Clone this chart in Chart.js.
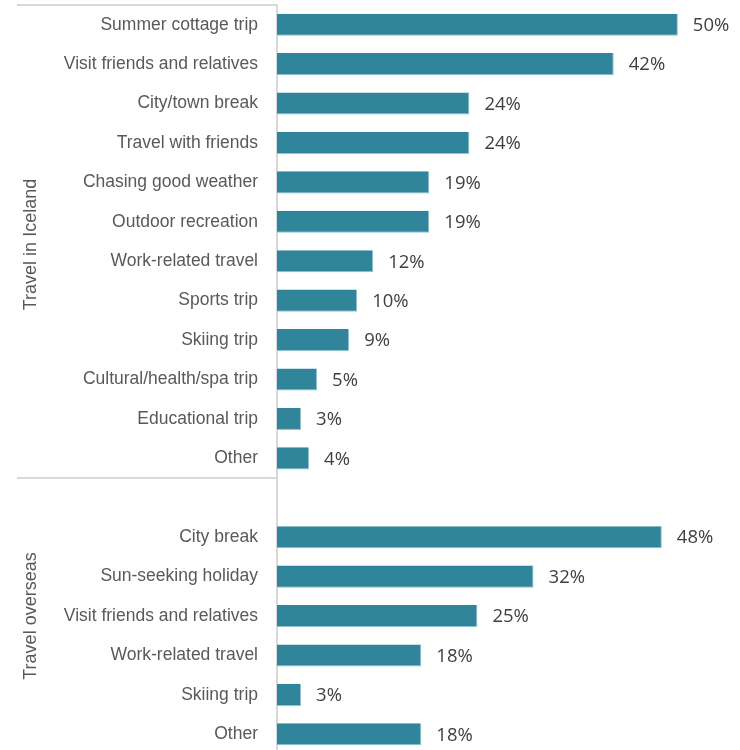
<!DOCTYPE html>
<html>
<head>
<meta charset="utf-8">
<title>Trip types</title>
<script src="https://cdn.jsdelivr.net/npm/chart.js@4/dist/chart.umd.min.js"></script>
<style>
  html, body { margin: 0; padding: 0; background: #fff; overflow: hidden; }
  #wrap { width: 740px; height: 754px; }
</style>
</head>
<body>
<div id="wrap"><canvas id="tripChart" width="740" height="754"></canvas></div>
<script>
"use strict";

// Trip types, domestic and abroad (share of respondents, %)
const icelandLabels = ["Summer cottage trip", "Visit friends and relatives", "City/town break",
  "Travel with friends", "Chasing good weather", "Outdoor recreation", "Work-related travel",
  "Sports trip", "Skiing trip", "Cultural/health/spa trip", "Educational trip", "Other"];
const icelandValues = [50, 42, 24, 24, 19, 19, 12, 10, 9, 5, 3, 4];

const overseasLabels = ["City break", "Sun-seeking holiday", "Visit friends and relatives",
  "Work-related travel", "Skiing trip", "Other"];
const overseasValues = [48, 32, 25, 18, 3, 18];

const groupNames = ["Travel in Iceland", "Travel overseas"];

// one empty row separates the two groups
const labels = icelandLabels.concat([""], overseasLabels);
const values = icelandValues.concat([null], overseasValues);

const lineColor = "#d9d9d9";
const axisLeft = 277;

const extras = {
  id: "extras",
  afterDatasetsDraw(chart) {
    const ctx = chart.ctx;
    const y = chart.scales.y;
    const x = chart.scales.x;
    const area = chart.chartArea;
    const band = y.getPixelForValue(1) - y.getPixelForValue(0);

    // value labels at the end of each bar
    const meta = chart.getDatasetMeta(0);
    ctx.save();
    ctx.font = "18.5px 'Open Sans'";
    ctx.fillStyle = "#404040";
    ctx.textBaseline = "middle";
    meta.data.forEach((bar, i) => {
      const v = values[i];
      if (v === null) return;
      ctx.fillText(v + "%", x.getPixelForValue(v) + 15, bar.y + 1);
    });

    // frame lines on the label side
    const sepY = y.getPixelForValue(icelandLabels.length - 1) + band / 2;
    ctx.strokeStyle = lineColor;
    ctx.lineWidth = 2;
    ctx.beginPath();
    ctx.moveTo(17, area.top);
    ctx.lineTo(area.left, area.top);
    ctx.moveTo(17, sepY);
    ctx.lineTo(area.left, sepY);
    ctx.stroke();

    // rotated group titles
    const mids = [(area.top + sepY) / 2 + 3, (sepY + area.bottom) / 2];
    ctx.font = "18px 'Liberation Sans'";
    ctx.fillStyle = "#595959";
    ctx.textAlign = "center";
    groupNames.forEach((name, i) => {
      ctx.save();
      ctx.translate(31, mids[i]);
      ctx.rotate(-Math.PI / 2);
      ctx.fillText(name, 0, 0);
      ctx.restore();
    });
    ctx.restore();
  }
};

new Chart(document.getElementById("tripChart"), {
  type: "bar",
  data: {
    labels: labels,
    datasets: [{
      data: values,
      backgroundColor: "#31859b",
      borderColor: "#8fc3cf",
      borderWidth: { top: 0, left: 0, right: 1, bottom: 1 },
      borderSkipped: "left",
      barPercentage: 0.56,
      categoryPercentage: 1
    }]
  },
  options: {
    indexAxis: "y",
    responsive: false,
    animation: false,
    layout: { padding: { top: 5, right: 0, bottom: 0, left: 0 } },
    plugins: {
      legend: { display: false },
      tooltip: { enabled: false }
    },
    scales: {
      x: {
        display: false,
        min: 0,
        max: 57.75
      },
      y: {
        afterFit(scale) {
          scale.width = axisLeft;
          scale.paddingTop = 0;
          scale.paddingBottom = 0;
        },
        grid: { display: false },
        border: { display: true, color: lineColor, width: 2 },
        ticks: {
          padding: 11,
          color: "#595959",
          font: { family: "'Liberation Sans', Arial", size: 17.5 },
          autoSkip: false
        }
      }
    }
  },
  plugins: [extras]
});
</script>
</body>
</html>
